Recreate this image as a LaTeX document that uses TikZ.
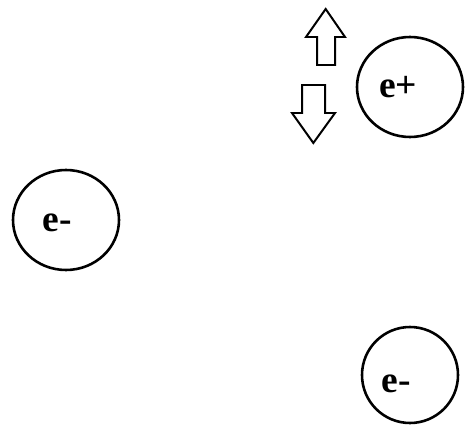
\documentclass[tikz,border=0pt]{standalone}
\usepackage{fontspec}
\setmainfont{Liberation Serif}
\usepackage{tikz}
\usetikzlibrary{shapes.geometric}

\tikzset{
  particle/.style={draw, line width=2.2pt, ellipse, inner sep=0pt},
  charge/.style={font=\fontsize{32}{38}\selectfont\bfseries, inner sep=0pt},
  hollowarrow/.style={draw, line width=1.7pt, line join=miter, fill=white}
}

\begin{document}
\begin{tikzpicture}
    \useasboundingbox (0,0) rectangle (13.95,12.81);

    % Particles
    \node[particle, minimum width=3.18cm, minimum height=3.0cm] (eplus) at (12.30,10.20) {};
    \node[particle, minimum width=3.18cm, minimum height=3.0cm] (eleft) at (1.98,6.21) {};
    \node[particle, minimum width=2.88cm, minimum height=2.88cm] (ebottom) at (12.30,1.56) {};

    % Charges
    \node[charge] (eplusText) at ([xshift=-0.36cm]eplus.center) {e+};
    \node[charge] (eleftText) at ([xshift=-0.27cm,yshift=-0.08cm]eleft.center) {e-};
    \node[charge] (ebottomText) at ([xshift=-0.42cm,yshift=-0.28cm]ebottom.center) {e-};

    % Up arrow
    \draw[hollowarrow] (9.51,10.86) -- (9.51,11.70) -- (9.18,11.70) -- (9.77,12.54)
        -- (10.35,11.70) -- (10.05,11.70) -- (10.05,10.86) -- cycle;

    % Down arrow
    \draw[hollowarrow] (9.06,10.26) -- (9.75,10.26) -- (9.75,9.42) -- (10.05,9.42)
        -- (9.40,8.52) -- (8.76,9.42) -- (9.06,9.42) -- cycle;

\end{tikzpicture}
\end{document}
